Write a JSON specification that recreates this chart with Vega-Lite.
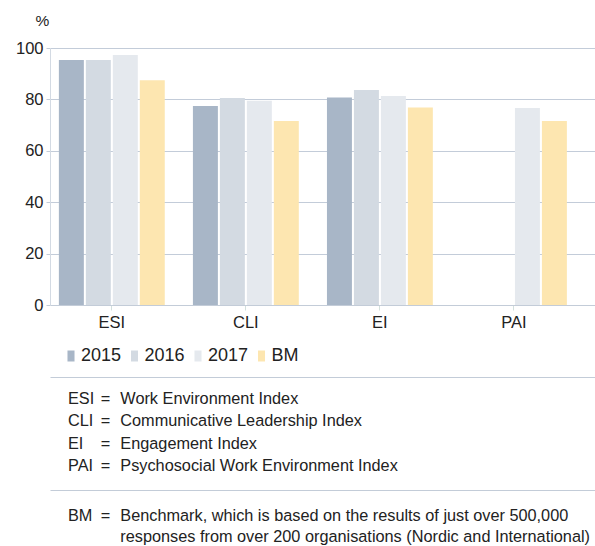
{
  "$schema": "https://vega.github.io/schema/vega-lite/v6.json",
  "padding": {"left": 15, "top": 13, "right": 0, "bottom": 0},
  "background": "white",
  "config": {
    "view": {"stroke": null},
    "font": "Liberation Sans",
    "concat": {"spacing": 0}
  },
  "datasets": {
    "bars": [
      {"index": "ESI", "series": "2015", "value": 95.3},
      {"index": "ESI", "series": "2016", "value": 95.3},
      {"index": "ESI", "series": "2017", "value": 97.3},
      {"index": "ESI", "series": "BM", "value": 87.5},
      {"index": "CLI", "series": "2015", "value": 77.4},
      {"index": "CLI", "series": "2016", "value": 80.5},
      {"index": "CLI", "series": "2017", "value": 79.5},
      {"index": "CLI", "series": "BM", "value": 71.6},
      {"index": "EI", "series": "2015", "value": 80.7},
      {"index": "EI", "series": "2016", "value": 83.7},
      {"index": "EI", "series": "2017", "value": 81.3},
      {"index": "EI", "series": "BM", "value": 76.8},
      {"index": "PAI", "series": "2017", "value": 76.7},
      {"index": "PAI", "series": "BM", "value": 71.6}
    ],
    "defs": [
      {"line": 1, "abbr": "ESI", "eq": "=", "def": "Work Environment Index"},
      {"line": 2, "abbr": "CLI", "eq": "=", "def": "Communicative Leadership Index"},
      {"line": 3, "abbr": "EI", "eq": "=", "def": "Engagement Index"},
      {"line": 4, "abbr": "PAI", "eq": "=", "def": "Psychosocial Work Environment Index"}
    ],
    "bm": [
      {"line": 1, "abbr": "BM", "eq": "=", "def": "Benchmark, which is based on the results of just over 500,000"},
      {"line": 2, "abbr": "", "eq": "", "def": "responses from over 200 organisations (Nordic and International)"}
    ]
  },
  "vconcat": [
    {
      "width": 545,
      "height": 257,
      "data": {"name": "bars"},
      "mark": {"type": "bar"},
      "encoding": {
        "x": {
          "field": "index", "type": "nominal", "sort": ["ESI", "CLI", "EI", "PAI"],
          "scale": {"paddingInner": 0.21, "paddingOuter": 0.138, "align": 0.24},
          "axis": {
            "title": null, "labelAngle": 0, "labelFontSize": 16.5, "labelColor": "#222",
            "labelPadding": 4, "tickSize": 5, "tickColor": "#d3e0dd", "domainColor": "#c3ccd8"
          }
        },
        "xOffset": {
          "field": "series", "type": "nominal",
          "scale": {"domain": ["2015", "2016", "2017", "BM"], "paddingInner": 0.074, "paddingOuter": 0}
        },
        "y": {
          "field": "value", "type": "quantitative",
          "scale": {"domain": [0, 100], "nice": false},
          "axis": {
            "values": [0, 20, 40, 60, 80, 100], "title": "%", "titleAngle": 0,
            "titleX": -8, "titleY": -35, "titleAlign": "center", "titleBaseline": "top",
            "titleFontSize": 15.5, "titleFontWeight": "normal", "titleColor": "#222",
            "labelFontSize": 16.5, "labelColor": "#222", "labelPadding": 3,
            "tickSize": 4, "tickColor": "#c3ccd8", "domainColor": "#d3dae3",
            "gridColor": "#c3ccd9", "gridWidth": 1.2
          }
        },
        "color": {
          "field": "series", "type": "nominal",
          "scale": {"domain": ["2015", "2016", "2017", "BM"], "range": ["#a8b6c7", "#d3dae2", "#e5e9ee", "#fde6b0"]},
          "legend": {
            "title": null, "orient": "none", "direction": "horizontal",
            "legendX": 12, "legendY": 299,
            "symbolType": "M-0.64,-1H0.64V1H-0.64Z", "symbolSize": 121, "symbolStrokeWidth": 0,
            "labelFontSize": 18, "labelColor": "#222", "labelOffset": 1, "columnPadding": 3.5,
            "padding": 0
          }
        }
      }
    },
    {
      "vconcat": [
        {
          "width": 545,
          "height": 113,
          "data": {"name": "defs"},
          "encoding": {
            "y": {"field": "line", "type": "ordinal", "scale": {"type": "point", "padding": 1.19, "align": 0.48}, "axis": null}
          },
          "layer": [
            {
              "mark": {"type": "text", "align": "left", "baseline": "middle", "fontSize": 16.3, "color": "#222"},
              "encoding": {
                "x": {"datum": 0.033, "type": "quantitative", "scale": {"domain": [0, 1], "nice": false, "zero": false},
                  "axis": {"orient": "top", "title": null, "labels": false, "ticks": false, "grid": false, "domainColor": "#c3ccd8", "domainWidth": 1.2}},
                "text": {"field": "abbr"}
              }
            },
            {
              "mark": {"type": "text", "align": "center", "baseline": "middle", "fontSize": 16.3, "color": "#222"},
              "encoding": {
                "x": {"datum": 0.102, "type": "quantitative"},
                "text": {"field": "eq"}
              }
            },
            {
              "mark": {"type": "text", "align": "left", "baseline": "middle", "fontSize": 16.3, "color": "#222"},
              "encoding": {
                "x": {"datum": 0.129, "type": "quantitative"},
                "text": {"field": "def"}
              }
            }
          ]
        },
        {
          "width": 545,
          "height": 56,
          "data": {"name": "bm"},
          "encoding": {
            "y": {"field": "line", "type": "ordinal", "scale": {"type": "point", "padding": 0.833, "align": 0.75}, "axis": null}
          },
          "layer": [
            {
              "mark": {"type": "text", "align": "left", "baseline": "middle", "fontSize": 16.3, "color": "#222"},
              "encoding": {
                "x": {"datum": 0.033, "type": "quantitative", "scale": {"domain": [0, 1], "nice": false, "zero": false},
                  "axis": {"orient": "top", "title": null, "labels": false, "ticks": false, "grid": false, "domainColor": "#c3ccd8", "domainWidth": 1.2}},
                "text": {"field": "abbr"}
              }
            },
            {
              "mark": {"type": "text", "align": "center", "baseline": "middle", "fontSize": 16.3, "color": "#222"},
              "encoding": {
                "x": {"datum": 0.102, "type": "quantitative"},
                "text": {"field": "eq"}
              }
            },
            {
              "mark": {"type": "text", "align": "left", "baseline": "middle", "fontSize": 16.3, "color": "#222"},
              "encoding": {
                "x": {"datum": 0.129, "type": "quantitative"},
                "text": {"field": "def"}
              }
            }
          ]
        }
      ],
      "spacing": 0,
      "bounds": "flush",
      "resolve": {"scale": {"x": "independent", "y": "independent"}}
    }
  ],
  "spacing": 72,
  "bounds": "flush",
  "resolve": {"scale": {"x": "independent", "y": "independent", "color": "independent"}}
}
